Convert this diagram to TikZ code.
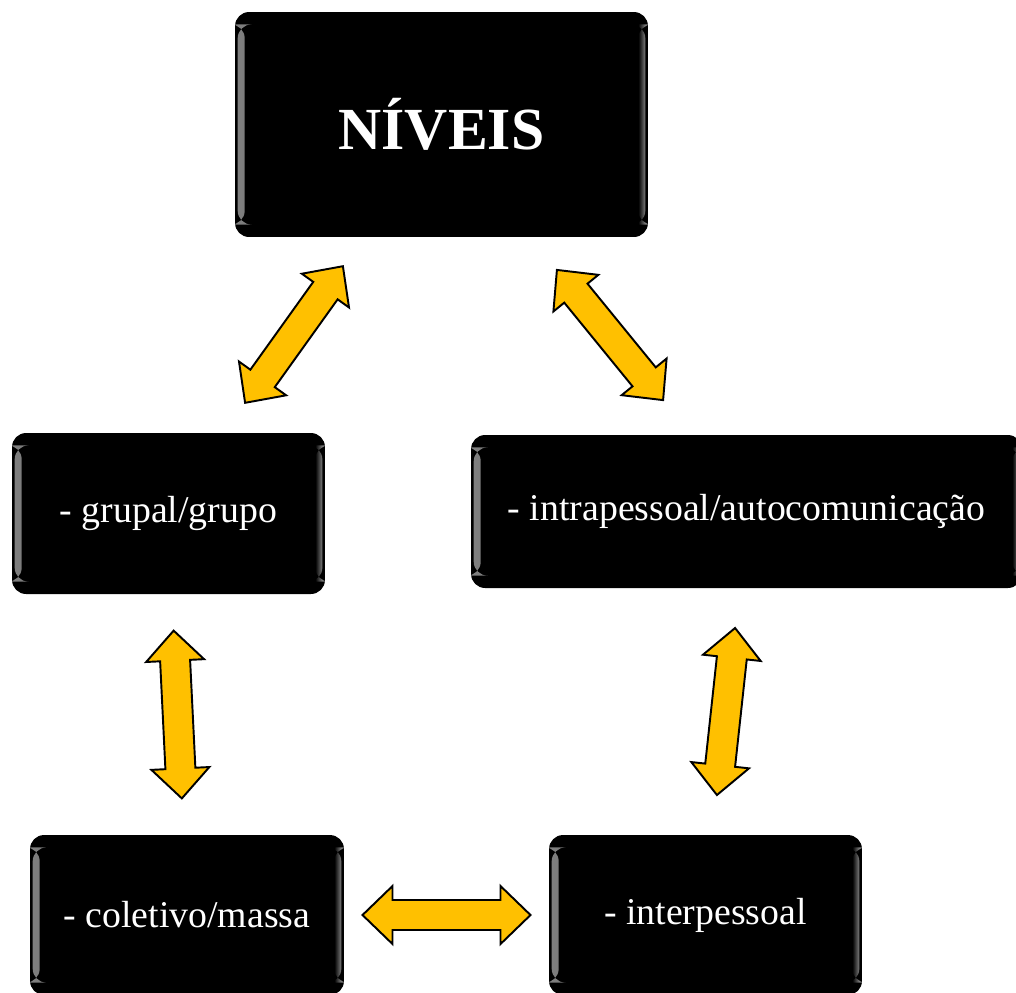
\documentclass[tikz,border=0pt]{standalone}
\usepackage{fontspec}
\setmainfont{Liberation Serif}
\usepackage{tikz}
\usetikzlibrary{calc}
\definecolor{ouro}{HTML}{FFC000}
\tikzset{
	caixa/.style={fill=black,text=white,rounded corners=8pt,inner sep=0pt,
		font=\fontsize{21.5}{26}\selectfont,
		path picture={
			\fill[left color=black!50,right color=black] ([shift={(1.5pt,7pt)}]path picture bounding box.south west) rectangle ([shift={(5.5pt,-7pt)}]path picture bounding box.north west);
			\fill[left color=black,right color=black!50] ([shift={(-5.5pt,7pt)}]path picture bounding box.south east) rectangle ([shift={(-1.5pt,-7pt)}]path picture bounding box.north east);
		}},
	titulo/.style={font=\fontsize{34}{40}\selectfont\bfseries},
	seta/.style={fill=ouro,draw=black,line width=1.1pt,line join=miter}
}
\newcommand{\dupla}[2]{% #1: center, #2: angle
	\begin{scope}[shift={#1},rotate=#2]
		\draw[seta] (-84,0) -- (-54,29) -- (-54,15) -- (54,15) -- (54,29) -- (84,0) -- (54,-29) -- (54,-15) -- (-54,-15) -- (-54,-29) -- cycle;
	\end{scope}
}

\begin{document}
\begin{tikzpicture}[x=0.02cm,y=-0.02cm]
	\useasboundingbox (0,0) rectangle (1016,992);
	
	% The boxes
	\node[caixa,titulo,minimum width=8.26cm,minimum height=4.5cm] (niveis) at (441.5,124.5) {NÍVEIS};
	\node[caixa,minimum width=6.26cm,minimum height=3.22cm] (grupal) at (168.5,513.5) {- grupal/grupo};
	\node[caixa,minimum width=11.02cm,minimum height=3.06cm] (intra) at (746.5,511.5) {- intrapessoal/autocomunicação};
	\node[caixa,minimum width=6.28cm,minimum height=3.2cm] (coletivo) at (187,915) {- coletivo/massa};
	\node[caixa,minimum width=6.26cm,minimum height=3.2cm] (inter) at (705.5,915) {- interpessoal};
	
	% Double arrows between the boxes
	\dupla{(294,334.5)}{54.4}
	\dupla{(610,335)}{-50.8}
	\dupla{($(grupal.south)!0.5!(coletivo.north)$)}{92.8}
	\dupla{($(intra.south)!0.5!(inter.north)$)}{83.8}
	\dupla{($(coletivo.east)!0.5!(inter.west)$)}{0}
\end{tikzpicture}
\end{document}
